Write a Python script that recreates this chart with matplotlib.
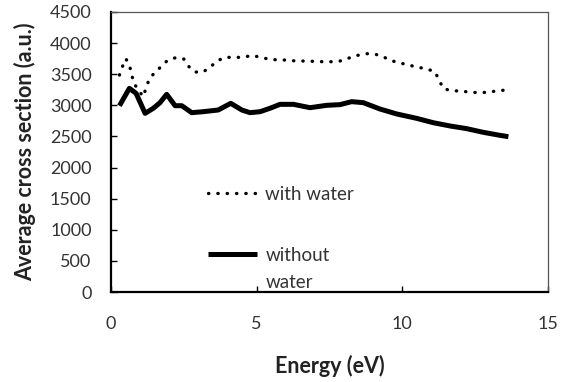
import matplotlib.pyplot as plt

plt.rcParams['font.family'] = ['Lato', 'DejaVu Sans']

# with water (dotted curve)
energy_water = [0.29, 0.39, 0.51, 0.63, 0.71, 0.77, 1.10, 1.30, 1.49, 1.72, 1.93,
                2.22, 2.50, 2.65, 2.88, 3.16, 3.42, 3.66, 3.92, 4.23, 4.53, 4.84,
                5.13, 5.41, 5.74, 6.06, 6.35, 6.66, 6.96, 7.27, 7.58, 7.86, 8.17,
                8.46, 8.78, 9.09, 9.38, 9.67, 9.97, 10.25, 10.55, 10.84, 11.12,
                11.27, 11.41, 11.70, 11.98, 12.29, 12.60, 12.92, 13.23, 13.54]
cs_water = [3487, 3621, 3749, 3643, 3503, 3364, 3139, 3407, 3525, 3621, 3718,
            3766, 3744, 3632, 3535, 3535, 3621, 3718, 3771, 3771, 3771, 3803,
            3771, 3744, 3728, 3728, 3712, 3712, 3707, 3701, 3701, 3712, 3760,
            3803, 3830, 3819, 3771, 3712, 3675, 3643, 3611, 3584, 3541,
            3396, 3267, 3235, 3230, 3214, 3203, 3209, 3230, 3246]

# without water (solid curve)
energy_dry = [0.29, 0.63, 0.86, 1.17, 1.45, 1.68, 1.91, 2.20, 2.43, 2.77, 3.17,
              3.68, 4.11, 4.49, 4.77, 5.12, 5.50, 5.80, 6.26, 6.83, 7.40, 7.86,
              8.26, 8.66, 9.23, 9.81, 10.49, 11.06, 11.64, 12.21, 12.78, 13.35,
              13.64]
cs_dry = [2994, 3273, 3193, 2871, 2952, 3042, 3177, 2994, 2994, 2882, 2898,
          2925, 3032, 2925, 2882, 2898, 2960, 3016, 3016, 2962, 3000, 3011,
          3059, 3043, 2941, 2861, 2791, 2721, 2668, 2625, 2566, 2518,
          2496]

x_ticks = [0, 5, 10, 15]
y_ticks = list(range(0, 4501, 500))

fig = plt.figure(figsize=(5.67, 3.82), dpi=100)
ax = fig.add_axes([0.1958, 0.2356, 0.7707, 0.733])

ax.plot(energy_water, cs_water, color='black', linewidth=2.4,
        linestyle=(0, (0.1, 2.7)), dash_capstyle='round', label='with water')
ax.plot(energy_dry, cs_dry, color='black', linewidth=3.6,
        solid_capstyle='butt', label='without')

ax.set_xlim(0, 15)
ax.set_ylim(0, 4500)
ax.set_xticks(x_ticks)
ax.set_yticks(y_ticks)
ax.tick_params(axis='both', direction='in', length=4, width=1,
               labelsize=13, colors='black', labelcolor='#333333')
ax.tick_params(axis='x', pad=17)
ax.tick_params(axis='y', pad=14)

ax.spines['left'].set_linewidth(1.6)
ax.spines['bottom'].set_linewidth(1.6)
for side in ['top', 'right']:
    ax.spines[side].set_linewidth(0.9)
    ax.spines[side].set_color('#555555')

ax.set_xlabel('Energy (eV)', fontsize=15.5, fontweight='bold', labelpad=17,
              color='#222222')
ax.set_ylabel('Average cross section (a.u.)', fontsize=15.5, fontweight='bold',
              labelpad=10, color='#222222')

ax.legend(loc='upper left', bbox_to_anchor=(0.222, 0.38), frameon=False,
          fontsize=13.5, handlelength=2.6, handletextpad=0.45, labelspacing=2.37,
          borderpad=0, borderaxespad=0, labelcolor='#333333')
ax.text(0.355, 0.035, 'water', transform=ax.transAxes, va='center',
        fontsize=13.5, color='#333333')

fig.savefig('out.png', dpi=100)
